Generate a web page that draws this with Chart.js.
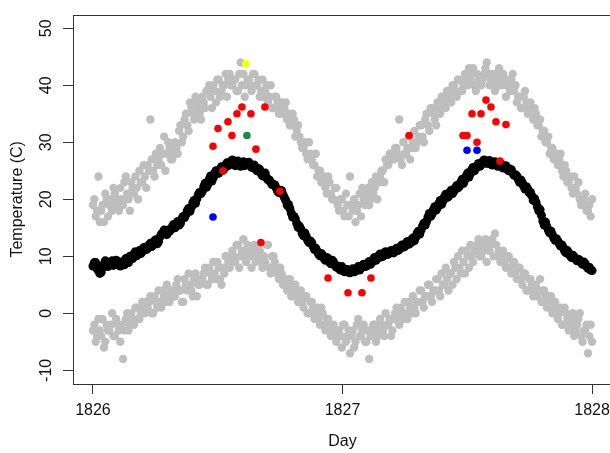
<!DOCTYPE html>
<html>
<head>
<meta charset="utf-8">
<script src="https://cdn.jsdelivr.net/npm/chart.js@4"></script>
<style>
  html, body { margin: 0; padding: 0; background: #fff; overflow: hidden; }
  #wrap { width: 622px; height: 453px; }
</style>
</head>
<body>
<div id="wrap"><canvas id="chart" width="622" height="453"></canvas></div>
<script>
// readings every 4 days from 1 Jan 1826; the "2" arrays are the days in between (offset 2 days)
const startYear = 1826;
const dayStep = 4;

const meanTemp = [
  8.3, 8.9, 7.5, 7.2, 8.6, 9.0, 8.4, 9.2, 8.6, 9.1,
  8.3, 8.7, 9.6, 8.9, 9.8, 10.4, 10.1, 11.0, 10.8, 11.6,
  11.4, 12.3, 12.0, 12.9, 12.6, 13.9, 14.6, 13.8, 14.4, 15.2,
  15.0, 16.1, 15.8, 17.0, 17.3, 18.4, 18.6, 19.8, 20.1, 21.2,
  21.4, 22.8, 22.6, 24.1, 23.8, 25.0, 24.6, 25.7, 25.4, 26.4,
  26.2, 26.9, 25.9, 26.7, 25.8, 26.6, 26.1, 26.5, 25.6, 26.0,
  25.0, 25.2, 24.1, 24.6, 23.4, 23.0, 22.6, 22.0, 21.2, 21.5,
  20.3, 19.0, 18.4, 16.9, 16.6, 15.1, 14.8, 13.6, 13.5, 12.4,
  12.4, 11.2, 10.9, 10.1, 10.2, 9.3, 9.6, 8.7, 9.0, 8.1,
  7.8, 8.2, 7.3, 7.7, 7.1, 7.8, 7.4, 8.2, 7.9, 8.6,
  8.3, 9.1, 8.9, 9.8, 9.6, 10.4, 10.0, 10.8, 10.4, 11.0,
  10.6, 11.4, 11.2, 12.0, 11.7, 12.6, 12.3, 13.2, 13.3, 14.4,
  14.6, 15.8, 16.1, 17.5, 17.4, 18.7, 18.6, 19.8, 19.7, 20.9,
  20.5, 21.6, 21.4, 22.4, 22.3, 23.5, 23.4, 24.6, 24.5, 25.6,
  25.4, 26.3, 26.1, 26.9, 26.3, 26.8, 26.0, 26.6, 25.8, 26.3,
  25.5, 25.9, 25.0, 25.2, 24.2, 24.1, 23.0, 22.9, 21.8, 21.8,
  21.2, 19.8, 19.5, 18.0, 17.2, 15.5, 15.2, 14.1, 13.8, 12.8,
  12.7, 11.8, 11.5, 10.6, 10.6, 9.8, 9.9, 9.2, 9.3, 8.6, 8.7, 7.9, 7.6
];
const meanTemp2 = [
  8.9, 7.8, 7.0, 8.0, 9.2, 8.2, 8.9, 8.4, 9.3, 8.5,
  9.0, 8.5, 9.4, 10.0, 9.6, 10.8, 10.7, 10.5, 11.5, 11.2,
  12.0, 11.7, 12.7, 12.2, 13.4, 14.0, 14.3, 14.6, 14.7, 15.6,
  15.7, 15.5, 16.6, 16.8, 18.0, 17.9, 19.4, 19.3, 20.8, 21.0,
  22.2, 22.1, 23.5, 23.2, 24.6, 24.5, 25.3, 25.1, 26.0, 25.9,
  26.7, 26.3, 26.5, 26.1, 26.4, 25.9, 26.4, 26.0, 25.9, 25.3,
  25.4, 24.5, 24.5, 23.8, 23.4, 22.6, 22.5, 21.4, 21.6, 20.8,
  19.8, 19.1, 17.6, 17.0, 15.8, 15.3, 14.0, 14.1, 12.8, 12.7,
  11.7, 11.4, 10.4, 10.5, 9.6, 9.8, 9.0, 9.3, 8.4, 8.3,
  7.6, 7.7, 7.6, 7.2, 7.6, 7.3, 7.9, 7.6, 8.4, 8.2,
  8.8, 8.6, 9.5, 9.3, 10.1, 9.9, 10.6, 10.3, 10.8, 10.7,
  11.1, 11.0, 11.7, 11.6, 12.3, 12.1, 12.9, 12.7, 14.0, 13.9,
  15.3, 15.5, 16.9, 17.0, 18.2, 18.1, 19.3, 19.1, 20.4, 20.3,
  21.2, 21.0, 22.0, 22.0, 23.0, 22.8, 24.1, 23.9, 25.2, 25.0,
  25.9, 25.8, 26.6, 26.5, 26.7, 26.2, 26.4, 26.1, 26.1, 25.7,
  25.8, 25.3, 25.3, 24.6, 24.3, 23.5, 23.4, 22.3, 22.2, 21.2,
  20.6, 20.1, 18.7, 18.2, 16.2, 16.0, 14.6, 14.4, 13.2, 13.1,
  12.2, 12.0, 10.9, 11.0, 10.1, 10.2, 9.5, 9.5, 8.9, 9.0, 8.2, 8.1, 7.5
];

const maxTemp = [
  19, 17, 24, 18, 16, 20, 19, 18, 21, 20,
  22, 19, 24, 20, 23, 21, 22, 25, 23, 24,
  26, 34, 25, 28, 27, 26, 31, 28, 29, 27,
  30, 28, 33, 31, 35, 32, 36, 34, 37, 35,
  38, 36, 39, 38, 40, 37, 41, 39, 40, 38,
  42, 40, 41, 39, 44, 42, 40, 41, 39, 42,
  40, 38, 41, 39, 37, 40, 36, 38, 35, 37,
  36, 34, 33, 35, 31, 33, 30, 29, 28, 30,
  27, 26, 24, 25, 23, 22, 24, 21, 20, 22,
  18, 20, 17, 19, 24, 18, 16, 19, 17, 20,
  21, 19, 23, 22, 20, 24, 25, 27, 26, 28,
  27, 29, 34, 26, 28, 29, 27, 30, 29, 31,
  33, 30, 35, 32, 36, 34, 37, 35, 38, 36,
  39, 37, 40, 38, 41, 39, 42, 40, 41, 43,
  39, 41, 40, 42, 44, 40, 42, 39, 41, 40,
  42, 38, 40, 41, 39, 37, 38, 36, 39, 35,
  37, 34, 35, 33, 31, 32, 30, 28, 29, 27,
  26, 28, 24, 25, 23, 22, 24, 21, 20, 19, 21, 18, 17
];
const maxTemp2 = [
  20, 18, 16, 19, 21, 17, 20, 22, 19, 18,
  20, 23, 21, 18, 22, 24, 20, 23, 26, 22,
  25, 27, 24, 26, 29, 28, 25, 30, 27, 28,
  29, 32, 30, 34, 33, 37, 35, 38, 36, 34,
  37, 39, 40, 36, 39, 41, 38, 40, 42, 41,
  40, 41, 39, 42, 40, 38, 41, 40, 42, 40,
  41, 39, 38, 40, 38, 36, 38, 37, 36, 35,
  37, 35, 33, 34, 32, 31, 29, 30, 27, 28,
  26, 28, 25, 23, 24, 21, 23, 20, 22, 19,
  20, 18, 21, 17, 19, 20, 18, 21, 22, 19,
  22, 20, 21, 24, 23, 25, 23, 26, 28, 27,
  29, 28, 27, 30, 28, 31, 29, 32, 30, 33,
  31, 34, 33, 36, 35, 33, 36, 38, 37, 39,
  38, 40, 39, 41, 39, 40, 41, 43, 42, 40,
  42, 40, 41, 43, 42, 41, 40, 42, 43, 41,
  40, 41, 39, 42, 40, 38, 36, 38, 37, 36,
  35, 36, 33, 34, 32, 30, 31, 29, 27, 28,
  27, 25, 26, 23, 24, 21, 22, 23, 19, 20, 18, 19, 20
];

const minTemp = [
  -3, -5, -1, -4, -6, -2, -3, 0, -4, -2,
  -5, -8, -1, -3, 0, -2, 1, -1, 2, 0,
  1, 3, 0, 2, 4, 1, 3, 5, 2, 4,
  3, 6, 4, 2, 5, 7, 4, 6, 3, 5,
  6, 8, 5, 7, 9, 6, 8, 5, 7, 10,
  8, 11, 9, 12, 10, 13, 9, 11, 8, 12,
  10, 11, 8, 9, 12, 7, 10, 8, 6, 7,
  5, 4, 6, 3, 5, 2, 4, 1, 3, 0,
  2, -1, 1, -2, 0, -3, -1, -4, -2, -5,
  -3, -6, -2, -4, -7, -3, -5, -1, -4, -2,
  -5, -8, -3, -2, -4, -1, -3, 0, -2, -4,
  -1, 1, -2, 0, 2, -1, 1, 3, 0, 2,
  4, 1, 3, 5, 2, 4, 6, 3, 5, 8,
  4, 7, 9, 6, 8, 11, 7, 10, 12, 9,
  11, 13, 10, 12, 9, 11, 13, 14, 10, 9,
  11, 8, 10, 7, 9, 6, 8, 5, 7, 4,
  6, 3, 5, 4, 2, 4, 1, 3, 0, 2,
  -1, 1, -2, 0, -3, -1, -4, -2, 0, -5, -3, -7, -2
];
const minTemp2 = [
  -2, -4, -3, -1, -5, -3, -2, -4, -1, -3,
  -2, -3, 0, -2, -1, 1, -1, 0, 1, 2,
  2, 0, 3, 1, 2, 4, 2, 3, 4, 3,
  5, 4, 2, 6, 4, 5, 3, 7, 5, 6,
  7, 5, 8, 6, 7, 9, 6, 8, 10, 9,
  9, 10, 12, 8, 11, 10, 12, 10, 11, 9,
  11, 9, 10, 12, 8, 10, 9, 7, 8, 5,
  6, 5, 3, 4, 4, 3, 2, 3, 0, 2,
  1, 0, -1, 1, -2, -1, -2, -3, -4, -3,
  -4, -2, -5, -3, -4, -6, -2, -4, -3, -5,
  -3, -4, -2, -5, -3, -2, -4, -2, -1, -3,
  0, -1, 1, -1, 0, 2, 0, 1, 2, 4,
  2, 3, 5, 3, 4, 6, 4, 7, 5, 6,
  7, 5, 8, 10, 7, 9, 11, 8, 10, 11,
  12, 10, 11, 13, 11, 12, 10, 12, 11, 10,
  9, 10, 8, 9, 7, 8, 6, 7, 4, 6,
  5, 4, 3, 6, 4, 3, 2, 3, 1, 1,
  0, -2, 1, -1, -2, 0, -3, -1, -4, -3, -2, -4, -5
];

// single highlighted readings
const redYear = [1826.481, 1826.501, 1826.521, 1826.541, 1826.557, 1826.577, 1826.597, 1826.633, 1826.653,
  1826.673, 1826.689, 1826.749, 1826.942, 1827.022, 1827.078, 1827.114, 1827.267,
  1827.483, 1827.499, 1827.519, 1827.539, 1827.555, 1827.575, 1827.595, 1827.615, 1827.631, 1827.655];
const redTemp = [29.3, 32.4, 25.0, 33.6, 31.2, 35.0, 36.2, 35.0, 28.8,
  12.4, 36.2, 21.4, 6.2, 3.6, 3.6, 6.2, 31.2,
  31.2, 31.2, 35.0, 30.0, 35.0, 37.4, 36.2, 33.6, 26.7, 33.1];
const blueYear = [1826.481, 1827.499, 1827.539];
const blueTemp = [16.9, 28.6, 28.6];
const greenYear = [1826.617];
const greenTemp = [31.2];
const yellowYear = [1826.613];
const yellowTemp = [43.8];

const xTicks = [1826, 1827, 1828];
const yTicks = [-10, 0, 10, 20, 30, 40, 50];

const daily = (ys, offset) => ys.map((y, i) => ({ x: startYear + (i * dayStep + offset) / 365, y: y }));
const pts = (xs, ys) => xs.map((x, i) => ({ x: x, y: ys[i] }));

function dots(label, data, color, r, order) {
  return {
    label: label,
    data: data,
    backgroundColor: color,
    borderColor: color,
    pointBorderWidth: 0,
    pointRadius: r,
    pointHoverRadius: r,
    order: order
  };
}

const boxPlugin = {
  id: 'box',
  afterDraw(chart) {
    const { ctx, chartArea: a } = chart;
    ctx.save();
    ctx.strokeStyle = '#333';
    ctx.lineWidth = 1;
    ctx.strokeRect(Math.round(a.left) + 0.5, Math.round(a.top) + 0.5,
      Math.round(a.right - a.left), Math.round(a.bottom - a.top));
    ctx.restore();
  }
};

const font = { family: 'Liberation Sans, Arial, sans-serif', size: 16 };
const ink = '#111';
const grey = '#bebebe';

new Chart(document.getElementById('chart'), {
  type: 'scatter',
  data: {
    datasets: [
      dots('yellow', pts(yellowYear, yellowTemp), '#ffff00', 3.8, 0),
      dots('green', pts(greenYear, greenTemp), '#1e8b3c', 3.8, 1),
      dots('blue', pts(blueYear, blueTemp), '#0000ff', 3.8, 1),
      dots('red', pts(redYear, redTemp), '#ff0000', 3.8, 1),
      dots('mean', daily(meanTemp, 0), '#000000', 4.5, 2),
      dots('mean2', daily(meanTemp2, 2), '#000000', 4.5, 2),
      dots('max', daily(maxTemp, 0), grey, 4.2, 3),
      dots('max2', daily(maxTemp2, 2), grey, 4.2, 3),
      dots('min', daily(minTemp, 0), grey, 4.2, 3),
      dots('min2', daily(minTemp2, 2), grey, 4.2, 3)
    ]
  },
  options: {
    responsive: false,
    animation: false,
    devicePixelRatio: 1,
    layout: { padding: { left: 0, right: 10, top: 9, bottom: 0 } },
    plugins: { legend: { display: false }, tooltip: { enabled: false } },
    scales: {
      x: {
        type: 'linear',
        min: 1825.92,
        max: 1828.08,
        afterBuildTicks: s => { s.ticks = xTicks.map(v => ({ value: v })); },
        afterFit: s => { s.height = 69; },
        border: { display: false },
        grid: { drawOnChartArea: false, drawTicks: true, tickLength: 10, color: '#333' },
        ticks: { font: font, color: ink, padding: 7, maxRotation: 0, callback: v => String(v) },
        title: { display: true, text: 'Day', font: font, color: ink, padding: { top: 0, bottom: 2 } }
      },
      y: {
        type: 'linear',
        min: -12.4,
        max: 52.4,
        afterBuildTicks: s => { s.ticks = yTicks.map(v => ({ value: v })); },
        afterFit: s => { s.width = 73; },
        border: { display: false },
        grid: { drawOnChartArea: false, drawTicks: true, tickLength: 10, color: '#333' },
        ticks: { font: font, color: ink, padding: 5, minRotation: 90, maxRotation: 90, crossAlign: 'center', callback: v => String(v) },
        title: { display: true, text: 'Temperature (C)', font: font, color: ink, padding: { top: 8, bottom: 0 } }
      }
    }
  },
  plugins: [boxPlugin]
});
</script>
</body>
</html>
